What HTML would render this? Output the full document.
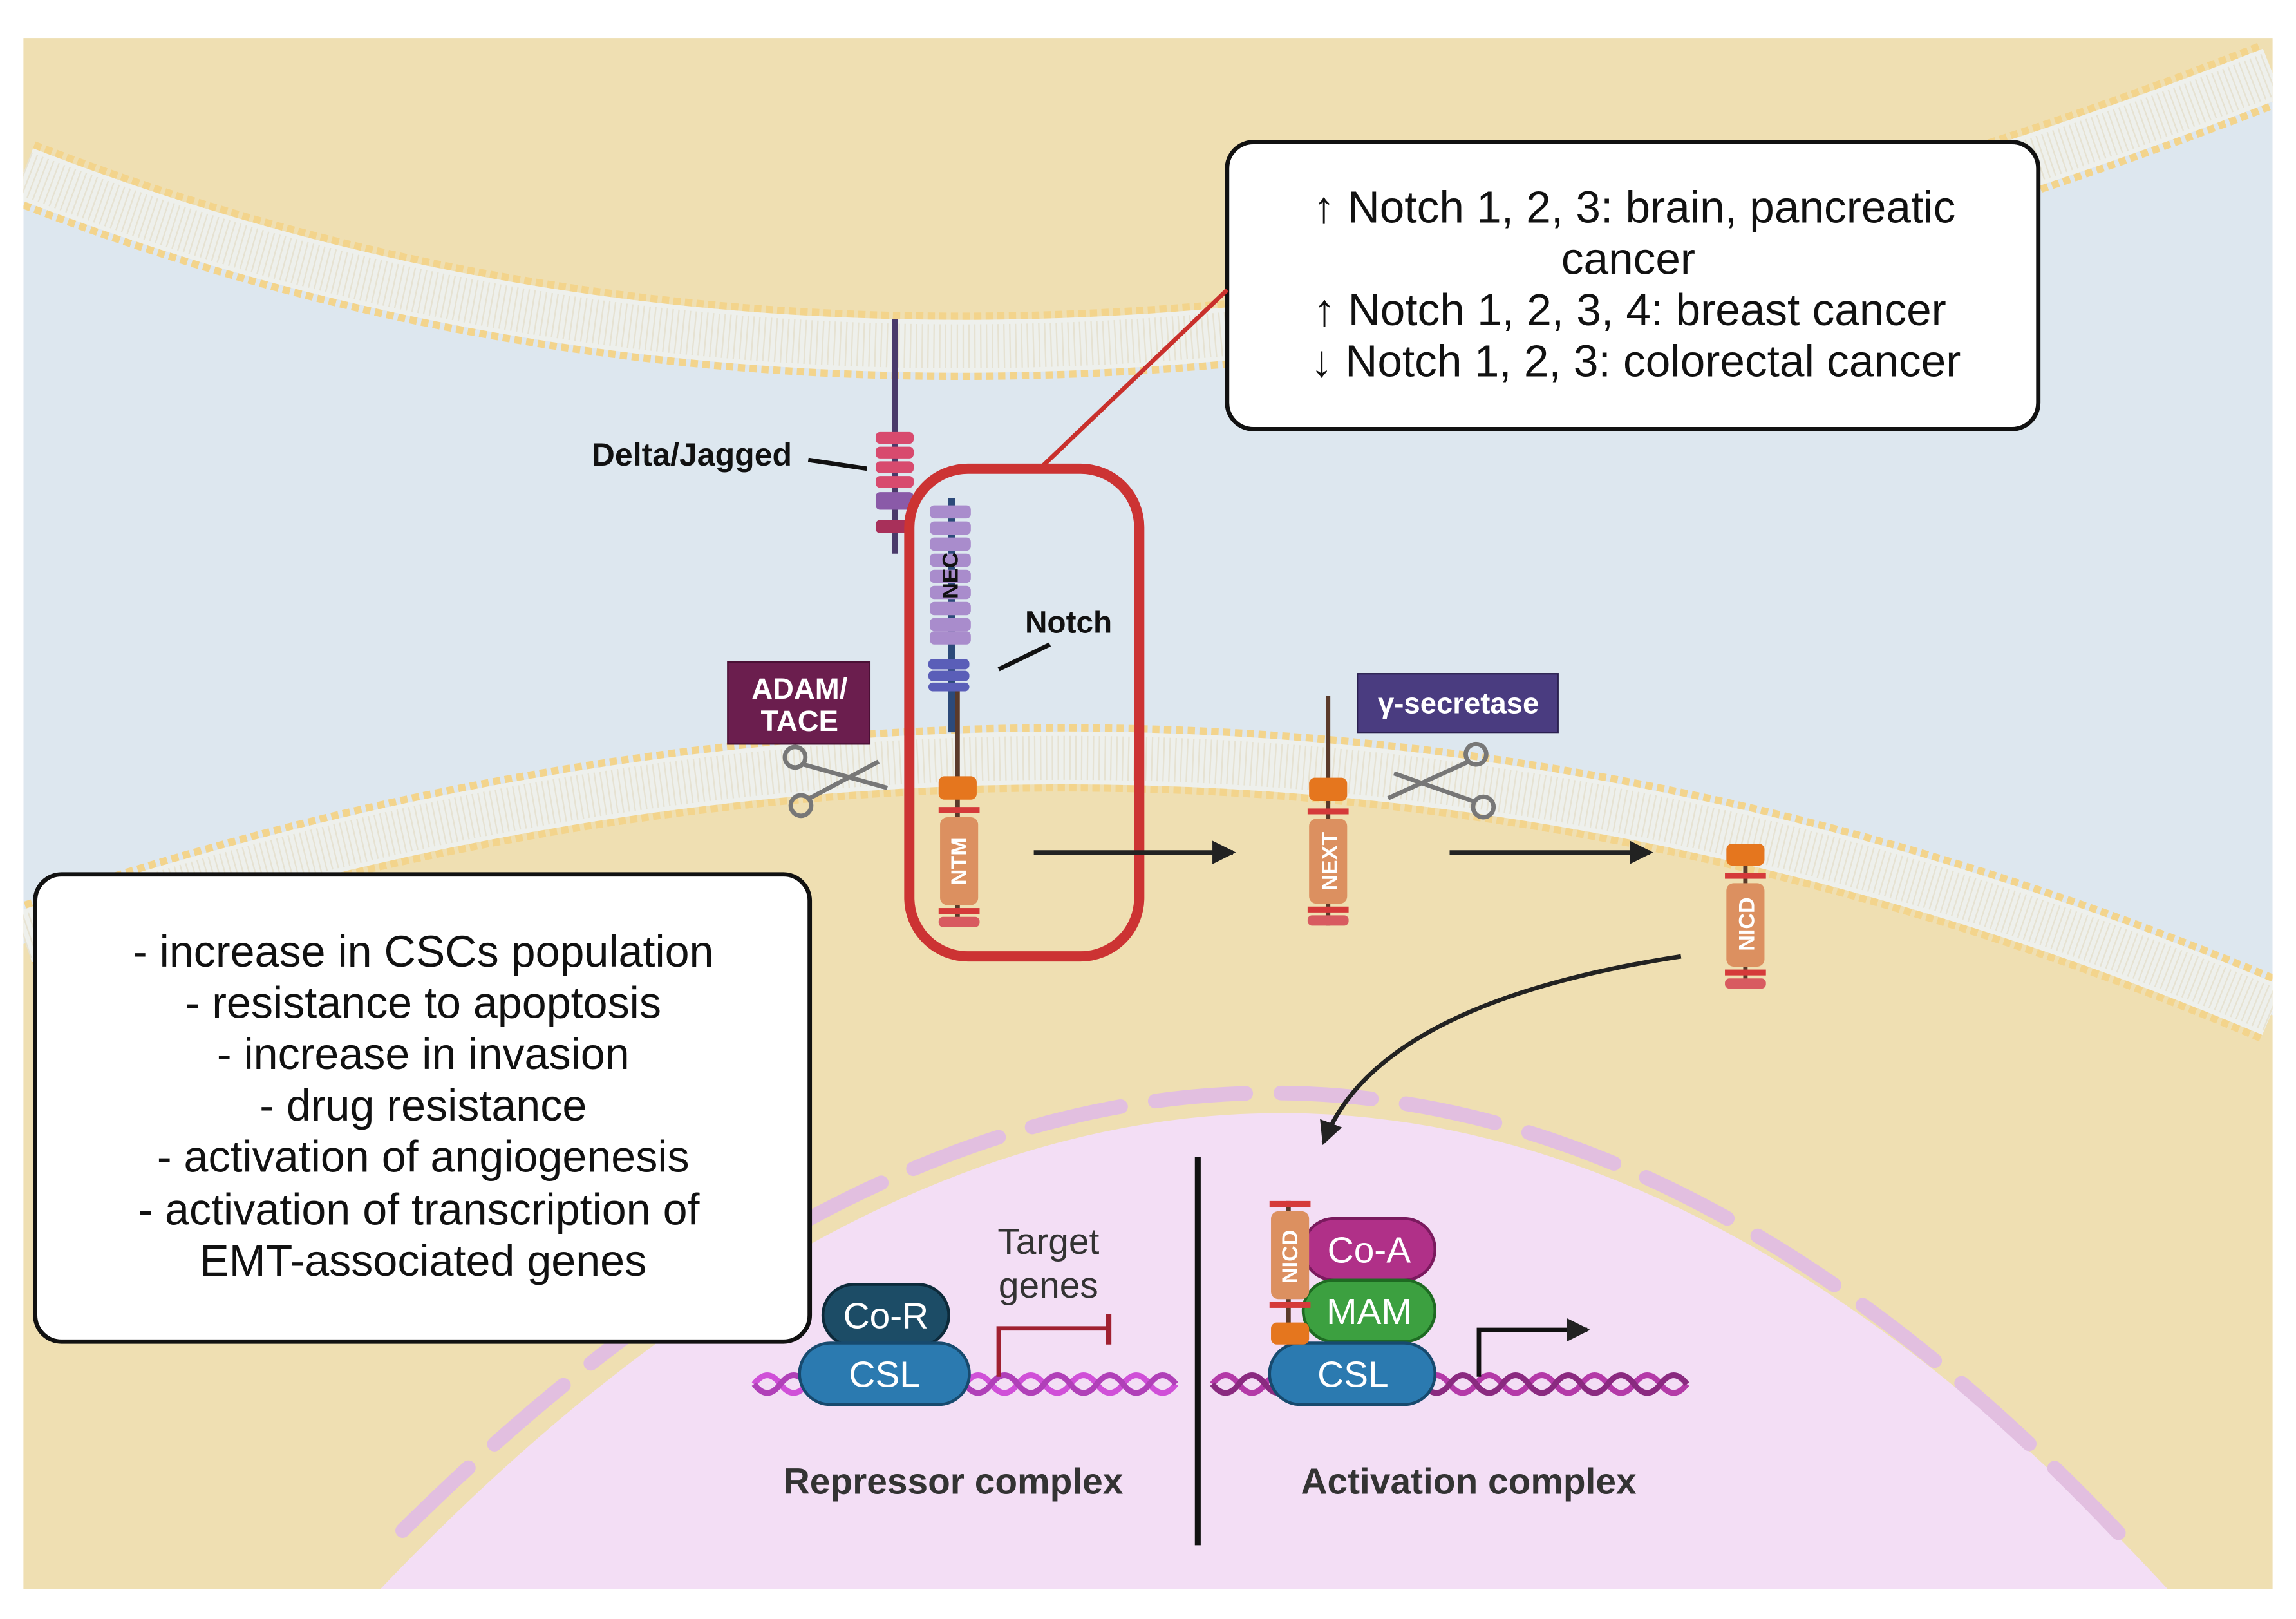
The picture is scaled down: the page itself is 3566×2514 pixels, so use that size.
<!DOCTYPE html>
<html><head><meta charset="utf-8"><style>
html,body{margin:0;padding:0;background:#fff;}
svg{display:block;}
text{font-family:"Liberation Sans",sans-serif;}
</style></head><body>
<svg width="3566" height="2514" viewBox="0 0 1568 1105.4" xmlns="http://www.w3.org/2000/svg">
<defs>
<clipPath id="c"><rect x="16" y="26" width="1536" height="1059"/></clipPath>
<marker id="ah2" markerWidth="16" markerHeight="16" refX="14" refY="8" orient="auto" markerUnits="userSpaceOnUse"><path d="M0,0 L16,8 L0,16 Z" fill="#222"/></marker>
</defs>
<rect width="1568" height="1106" fill="#fff"/>
<g clip-path="url(#c)">
<rect x="16" y="26" width="1536" height="1059" fill="#dde7ef"/>
<path d="M0,0 L1568,0 L1568,46 Q700,385 0,116 Z" fill="#efdfb2"/>
<path d="M16,118 Q700,385 1552,50" fill="none" stroke="#f3d48c" stroke-width="46" stroke-dasharray="5 3"/>
<path d="M16,118 Q700,385 1552,50" fill="none" stroke="#eef0ec" stroke-width="36"/>
<path d="M16,118 Q700,385 1552,50" fill="none" stroke="#e6e2d2" stroke-width="30" stroke-dasharray="1 3"/>
<path d="M0,650 Q800,370 1568,700 L1568,1110 L0,1110 Z" fill="#efdfb2"/>
<path d="M16,640 Q800,372 1552,690" fill="none" stroke="#f3d48c" stroke-width="46" stroke-dasharray="5 3"/>
<path d="M16,640 Q800,372 1552,690" fill="none" stroke="#eef0ec" stroke-width="36"/>
<path d="M16,640 Q800,372 1552,690" fill="none" stroke="#e6e2d2" stroke-width="30" stroke-dasharray="1 3"/>
<path d="M255,1090 Q880,430 1485,1090 Z" fill="#f3def5"/>
<path d="M275,1045 Q880,445 1450,1050" fill="none" stroke="#e2bfe0" stroke-width="10" stroke-dasharray="62 24" stroke-linecap="round"/>
</g>
<rect x="838" y="97" width="554" height="196" rx="18" fill="#fff" stroke="#111" stroke-width="3"/>
<g font-size="30.5" fill="#111" text-anchor="middle">
<text x="1116" y="152">↑ Notch 1, 2, 3: brain, pancreatic</text>
<text x="1112" y="187">cancer</text>
<text x="1113" y="222">↑ Notch 1, 2, 3, 4: breast cancer</text>
<text x="1117" y="257">↓ Notch 1, 2, 3: colorectal cancer</text>
</g>
<line x1="708" y1="322" x2="838" y2="198" stroke="#c9302c" stroke-width="3"/>
<rect x="24" y="597" width="529" height="319" rx="18" fill="#fff" stroke="#111" stroke-width="3"/>
<g font-size="30" fill="#111" text-anchor="middle">
<text x="289" y="660">- increase in CSCs population</text>
<text x="289" y="695">- resistance to apoptosis</text>
<text x="289" y="730">- increase in invasion</text>
<text x="289" y="765">- drug resistance</text>
<text x="289" y="800">- activation of angiogenesis</text>
<text x="286" y="836">- activation of transcription of</text>
<text x="289" y="871">EMT-associated genes</text>
</g>
<line x1="611" y1="218" x2="611" y2="378" stroke="#4a3a6a" stroke-width="4"/>
<g fill="#d84a6e">
<rect x="598" y="295" width="26" height="8" rx="3"/><rect x="598" y="305" width="26" height="8" rx="3"/><rect x="598" y="315" width="26" height="8" rx="3"/><rect x="598" y="325" width="26" height="8" rx="3"/>
<rect x="598" y="355" width="26" height="9" rx="3" fill="#a8305a"/>
</g>
<rect x="598" y="336" width="26" height="12" rx="3" fill="#8a5aa8"/>
<text x="404" y="318" font-size="22" font-weight="bold" fill="#111">Delta/Jagged</text>
<line x1="552" y1="314" x2="592" y2="320" stroke="#111" stroke-width="3"/>
<line x1="650" y1="340" x2="650" y2="500" stroke="#2c4a7a" stroke-width="5"/>
<line x1="654" y1="470" x2="654" y2="630" stroke="#5a3a2a" stroke-width="3"/>
<g fill="#a98ccc">
<rect x="635" y="345" width="28" height="9" rx="3"/><rect x="635" y="356" width="28" height="9" rx="3"/><rect x="635" y="367" width="28" height="9" rx="3"/><rect x="635" y="378" width="28" height="9" rx="3"/><rect x="635" y="389" width="28" height="9" rx="3"/><rect x="635" y="400" width="28" height="9" rx="3"/><rect x="635" y="411" width="28" height="9" rx="3"/><rect x="635" y="422" width="28" height="9" rx="3"/><rect x="635" y="431" width="28" height="9" rx="3"/>
</g>
<text transform="translate(654,393) rotate(-90)" font-size="15" font-weight="bold" fill="#111" text-anchor="middle">NEC</text>
<g fill="#5a5eb8"><rect x="634" y="450" width="28" height="7" rx="3"/><rect x="634" y="458" width="28" height="7" rx="3"/><rect x="634" y="466" width="28" height="6" rx="3"/></g>
<rect x="641" y="530" width="26" height="16" rx="4" fill="#e5761e"/>
<rect x="641" y="551" width="28" height="4" fill="#d53a3a"/>
<rect x="642" y="558" width="26" height="60" rx="5" fill="#dc9060"/>
<rect x="641" y="620" width="28" height="4" fill="#d53a3a"/>
<rect x="641" y="626" width="28" height="7" rx="3" fill="#d85a60"/>
<text transform="translate(660,588) rotate(-90)" font-size="15" font-weight="bold" fill="#fff" text-anchor="middle">NTM</text>
<text x="700" y="432" font-size="21" font-weight="bold" fill="#111">Notch</text>
<line x1="682" y1="457" x2="717" y2="440" stroke="#111" stroke-width="3"/>
<rect x="621" y="320" width="157" height="333" rx="40" fill="none" stroke="#cc3333" stroke-width="7"/>
<rect x="497" y="452" width="97" height="56" fill="#6b1e4e" stroke="#4a1035" stroke-width="1"/>
<text x="546" y="477" font-size="20" font-weight="bold" fill="#fff" text-anchor="middle">ADAM/</text>
<text x="546" y="499" font-size="20" font-weight="bold" fill="#fff" text-anchor="middle">TACE</text>
<g stroke="#777" stroke-width="3" fill="none">
<circle cx="543" cy="517" r="7"/><circle cx="547" cy="550" r="7"/>
<line x1="549" y1="522" x2="606" y2="538"/><line x1="553" y1="545" x2="600" y2="520"/>
</g>
<line x1="706" y1="582" x2="842" y2="582" stroke="#222" stroke-width="3" marker-end="url(#ah2)"/>
<line x1="990" y1="582" x2="1127" y2="582" stroke="#222" stroke-width="3" marker-end="url(#ah2)"/>
<line x1="907" y1="475" x2="907" y2="632" stroke="#5a3a2a" stroke-width="3"/>
<rect x="894" y="531" width="26" height="16" rx="4" fill="#e5761e"/>
<rect x="893" y="552" width="28" height="4" fill="#d53a3a"/>
<rect x="894" y="559" width="26" height="58" rx="5" fill="#dc9060"/>
<rect x="893" y="619" width="28" height="4" fill="#d53a3a"/>
<rect x="893" y="625" width="28" height="7" rx="3" fill="#d85a60"/>
<text transform="translate(913,588) rotate(-90)" font-size="15" font-weight="bold" fill="#fff" text-anchor="middle">NEXT</text>
<rect x="927" y="460" width="137" height="40" fill="#4a3c80" stroke="#2a2050" stroke-width="1"/>
<text x="996" y="487" font-size="20" font-weight="bold" fill="#fff" text-anchor="middle">γ-secretase</text>
<g stroke="#777" stroke-width="3" fill="none">
<circle cx="1008" cy="515" r="7"/><circle cx="1013" cy="551" r="7"/>
<line x1="1003" y1="520" x2="948" y2="545"/><line x1="1006" y1="547" x2="952" y2="528"/>
</g>
<line x1="1192" y1="580" x2="1192" y2="675" stroke="#5a3a2a" stroke-width="3"/>
<rect x="1179" y="576" width="26" height="15" rx="4" fill="#e5761e"/>
<rect x="1178" y="596" width="28" height="4" fill="#d53a3a"/>
<rect x="1179" y="603" width="26" height="57" rx="5" fill="#dc9060"/>
<rect x="1178" y="662" width="28" height="4" fill="#d53a3a"/>
<rect x="1178" y="668" width="28" height="7" rx="3" fill="#d85a60"/>
<text transform="translate(1198,631) rotate(-90)" font-size="15" font-weight="bold" fill="#fff" text-anchor="middle">NICD</text>
<path d="M1148,653 Q940,685 904,780" fill="none" stroke="#222" stroke-width="3" marker-end="url(#ah2)"/>
<line x1="818" y1="790" x2="818" y2="1055" stroke="#111" stroke-width="4"/>
<g fill="none" stroke-width="4">
<path d="M515,945 q9,-12 18,0 t18,0 t18,0 t18,0 t18,0 t18,0 t18,0 t18,0 t18,0 t18,0 t18,0 t18,0 t18,0 t18,0 t18,0 t18,0" stroke="#d050d8"/>
<path d="M515,945 q9,12 18,0 t18,0 t18,0 t18,0 t18,0 t18,0 t18,0 t18,0 t18,0 t18,0 t18,0 t18,0 t18,0 t18,0 t18,0 t18,0" stroke="#b040b8"/>
<path d="M828,945 q9,-12 18,0 t18,0 t18,0 t18,0 t18,0 t18,0 t18,0 t18,0 t18,0 t18,0 t18,0 t18,0 t18,0 t18,0 t18,0 t18,0 t18,0 t18,0" stroke="#b43aa8"/>
<path d="M828,945 q9,12 18,0 t18,0 t18,0 t18,0 t18,0 t18,0 t18,0 t18,0 t18,0 t18,0 t18,0 t18,0 t18,0 t18,0 t18,0 t18,0 t18,0 t18,0" stroke="#8a2a80"/>
</g>
<rect x="562" y="877" width="86" height="42" rx="21" fill="#1c4c66" stroke="#0d2a3a" stroke-width="2"/>
<text x="605" y="907" font-size="25" fill="#fff" text-anchor="middle">Co-R</text>
<rect x="546" y="917" width="116" height="42" rx="21" fill="#2b7ab0" stroke="#174a6e" stroke-width="2"/>
<text x="604" y="947" font-size="25" fill="#fff" text-anchor="middle">CSL</text>
<text x="716" y="856" font-size="25" fill="#333" text-anchor="middle">Target</text>
<text x="716" y="886" font-size="25" fill="#333" text-anchor="middle">genes</text>
<path d="M682,940 L682,907 L757,907" fill="none" stroke="#a02030" stroke-width="3"/>
<line x1="757" y1="897" x2="757" y2="918" stroke="#a02030" stroke-width="4"/>
<text x="651" y="1020" font-size="25" font-weight="bold" fill="#333" text-anchor="middle">Repressor complex</text>
<rect x="890" y="832" width="90" height="42" rx="21" fill="#b03088" stroke="#7a1a5e" stroke-width="2"/>
<text x="935" y="862" font-size="25" fill="#fff" text-anchor="middle">Co-A</text>
<rect x="890" y="874" width="90" height="42" rx="21" fill="#3ca040" stroke="#1e6a22" stroke-width="2"/>
<text x="935" y="904" font-size="25" fill="#fff" text-anchor="middle">MAM</text>
<rect x="867" y="917" width="113" height="42" rx="21" fill="#2b7ab0" stroke="#174a6e" stroke-width="2"/>
<text x="924" y="947" font-size="25" fill="#fff" text-anchor="middle">CSL</text>
<line x1="880" y1="820" x2="880" y2="918" stroke="#5a3a2a" stroke-width="3"/>
<rect x="867" y="820" width="28" height="4" fill="#d53a3a"/>
<rect x="868" y="827" width="26" height="60" rx="5" fill="#dc9060"/>
<rect x="867" y="889" width="28" height="4" fill="#d53a3a"/>
<rect x="868" y="903" width="26" height="15" rx="4" fill="#e5761e"/>
<text transform="translate(886,858) rotate(-90)" font-size="15" font-weight="bold" fill="#fff" text-anchor="middle">NICD</text>
<path d="M1010,940 L1010,908 L1084,908" fill="none" stroke="#111" stroke-width="3" marker-end="url(#ah2)"/>
<text x="1003" y="1020" font-size="25" font-weight="bold" fill="#333" text-anchor="middle">Activation complex</text>
</svg>
</body></html>
